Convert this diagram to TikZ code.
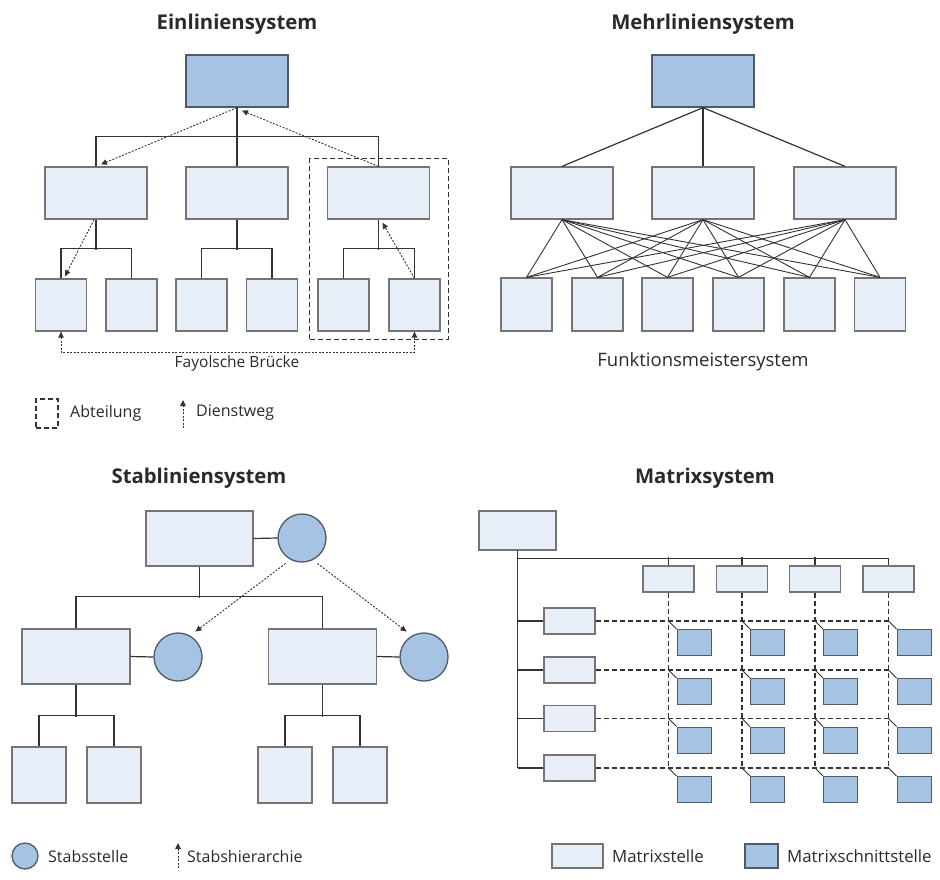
\documentclass[tikz,border=0pt]{standalone}
\usepackage{fontspec}
\setmainfont{Open Sans}
\usetikzlibrary{arrows.meta,fit,positioning}
\definecolor{lightfill}{HTML}{E8EEF8}
\definecolor{darkfill}{HTML}{A7C3E4}
\definecolor{boxline}{HTML}{747474}
\definecolor{darkline}{HTML}{505B67}
\definecolor{conn}{HTML}{333333}
\definecolor{txt}{HTML}{2A2A2A}
\tikzset{
  lbox/.style={draw=boxline, fill=lightfill, line width=1.3pt, inner sep=0pt},
  dbox/.style={draw=darkline, fill=darkfill, line width=1.3pt, inner sep=0pt},
  circ/.style={circle, draw=darkline, fill=darkfill, line width=1.3pt, inner sep=0pt, minimum size=48pt},
  conline/.style={draw=conn, line width=1.2pt},
  dienst/.style={draw=conn, line width=0.9pt, dash pattern=on 2pt off 1.5pt, -{Triangle[length=6pt,width=5.5pt]}},
  abt/.style={draw=conn, line width=1.2pt, dash pattern=on 5pt off 3pt},
  mdash/.style={draw=conn, line width=1.2pt, dash pattern=on 5pt off 3pt},
  title/.style={font=\fontsize{20.3}{23}\selectfont\bfseries, text=txt},
  lab/.style={font=\fontsize{16}{19}\selectfont, text=txt},
}
\begin{document}
\begin{tikzpicture}[x=1pt,y=-1pt]
\useasboundingbox (0,0) rectangle (940,879);
% ================= Einliniensystem =================
\node[title] (t1) at (237,24) {Einliniensystem};
\node[dbox, minimum width=102pt, minimum height=52pt] (T1) at (237,81) {};
\foreach \n/\x in {A1/96,A2/237,A3/378.5}
  \node[lbox, minimum width=102pt, minimum height=52pt] (\n) at (\x,193) {};
\foreach \n/\x in {B1/61,B2/131.5,B3/201.5,B4/272,B5/343.5,B6/414.5}
  \node[lbox, minimum width=51pt, minimum height=52pt] (\n) at (\x,305) {};
\draw[conline] (T1.south) -- (A2.north);
\draw[conline] (A1.north) -- ++(0,-30) -| (A3.north);
\draw[conline] (A1.south) -- ++(0,30);
\draw[conline] (A2.south) -- ++(0,30);
\draw[conline] (A3.south) -- ++(0,30);
\draw[conline] (B1.north) -- ++(0,-30) -| (B2.north);
\draw[conline] (B3.north) -- ++(0,-30) -| (B4.north);
\draw[conline] (B5.north) -- ++(0,-30) -| (B6.north);
\draw[dienst] (T1.south) -- ([xshift=5pt,yshift=2pt]A1.north);
\draw[dienst] (A3.north) -- ([xshift=5pt,yshift=-3pt]T1.south);
\draw[dienst] ([xshift=-2pt]A1.south) -- ([xshift=4pt,yshift=2pt]B1.north);
\draw[dienst] (B6.north) -- ([xshift=4pt,yshift=-3pt]A3.south);
\draw[dienst, {Triangle[length=6pt,width=5.5pt]}-{Triangle[length=6pt,width=5.5pt]}] (B1.south) -- ++(0,21) -| (B6.south);
\node[lab, font=\fontsize{15.5}{18}\selectfont] (fay) at (237,363) {Fayolsche Brücke};
\node[abt, inner sep=7.5pt, fit=(A3)(B5)(B6)] (abtbox) {};
% legend
\node[abt, minimum width=22pt, minimum height=29pt, inner sep=0pt] (legA) at (47,413.5) {};
\node[lab, anchor=west, inner sep=0pt] (legAt) at (70,413) {Abteilung};
\coordinate (d1) at (183,428);
\coordinate (d2) at (183,400);
\draw[dienst] (d1) -- (d2);
\node[lab, anchor=west, inner sep=0pt] (legDt) at (196,413) {Dienstweg};
% ================= Mehrliniensystem =================
\node[title] (t2) at (703,24) {Mehrliniensystem};
\node[dbox, minimum width=102pt, minimum height=52pt] (M0) at (703,81) {};
\foreach \n/\x in {MA/562,MB/703,MC/845}
  \node[lbox, minimum width=102pt, minimum height=52pt] (\n) at (\x,193) {};
\foreach \n/\x in {N1/526.5,N2/597.5,N3/667.5,N4/738.5,N5/809.5,N6/880}
  \node[lbox, minimum width=51pt, minimum height=53pt] (\n) at (\x,304.5) {};
\foreach \m in {MA,MB,MC} \draw[conline] (M0.south) -- (\m.north);
\foreach \m in {MA,MB,MC}
  \foreach \b in {N1,N2,N3,N4,N5,N6}
    \draw[conline, line width=0.9pt] (\m.south) -- (\b.north);
\node[lab, font=\fontsize{18.5}{21}\selectfont] (fms) at (703,362) {Funktionsmeistersystem};
% ================= Stabliniensystem =================
\node[title] (t3) at (199,478) {Stabliniensystem};
\node[lbox, minimum width=107pt, minimum height=55pt] (S0) at (199.5,538.5) {};
\node[circ] (C0) at (302,538) {};
\node[lbox, minimum width=108pt, minimum height=55pt] (SL) at (76,656.5) {};
\node[lbox, minimum width=108pt, minimum height=55pt] (SR) at (322.5,656.5) {};
\node[circ] (CL) at (178,657) {};
\node[circ] (CR) at (424,657) {};
\foreach \n/\x in {LB1/39,LB2/114,RB1/285,RB2/360}
  \node[lbox, minimum width=54pt, minimum height=56pt] (\n) at (\x,775) {};
\draw[conline] (S0.east) -- (C0.west);
\draw[conline] (SL.east) -- (CL.west);
\draw[conline] (SR.east) -- (CR.west);
\draw[conline] (S0.south) -- ++(0,31);
\draw[conline] (SL.north) -- ++(0,-32) -| (SR.north);
\draw[conline] (SL.south) -- ++(0,32);
\draw[conline] (SR.south) -- ++(0,32);
\draw[conline] (LB1.north) -- ++(0,-31) -| (LB2.north);
\draw[conline] (RB1.north) -- ++(0,-31) -| (RB2.north);
\draw[dienst] ([shift={(1,8)}]C0.south west) -- ([shift={(0,-8)}]CL.north east);
\draw[dienst] ([shift={(-2,8)}]C0.south east) -- ([shift={(0,-8)}]CR.north west);
% legend
\node[circ, minimum size=26pt] (legC) at (25,856) {};
\node[lab, anchor=west, inner sep=0pt] (legCt) at (48,856) {Stabsstelle};
\coordinate (s1) at (178,868);
\coordinate (s2) at (178,843);
\draw[dienst] (s1) -- (s2);
\node[lab, anchor=west, inner sep=0pt] (legSt) at (187,856) {Stabshierarchie};
% ================= Matrixsystem =================
\node[title] (t4) at (705,478) {Matrixsystem};
\node[lbox, minimum width=77pt, minimum height=39pt] (X0) at (517.5,530.5) {};
\foreach \n/\x in {K1/668.5,K2/742,K3/815,K4/888.5}
  \node[lbox, minimum width=51pt, minimum height=26pt] (\n) at (\x,579) {};
\foreach \n/\y in {R1/621,R2/670,R3/718.5,R4/768}
  \node[lbox, minimum width=51pt, minimum height=26pt] (\n) at (569.5,\y) {};
\foreach \c in {1,2,3,4}
  \foreach \r in {1,2,3,4}
    \node[dbox, minimum width=34pt, minimum height=26pt, anchor=north west]
      (Q\c\r) at ([shift={(8,8)}]K\c.south |- R\r.east) {};
\draw[conline] (X0.south) -- (X0.south |- R4.west);
\draw[conline] ([yshift=-8pt]X0.south) -| (K4.north);
\foreach \c in {K1,K2,K3} \draw[conline] (\c.north) -- ++(0,-8);
\foreach \r in {R1,R2,R3,R4} \draw[conline] (\r.west) -- (\r.west -| X0.south);
\foreach \r in {R1,R2,R3,R4} \draw[mdash] (\r.east) -- (\r.east -| K4.south);
\foreach \c in {K1,K2,K3,K4} \draw[mdash] (\c.south) -- (\c.south |- R4.east);
\foreach \c in {1,2,3,4}
  \foreach \r in {1,2,3,4}
    \draw[conline, line width=0.9pt] (K\c.south |- R\r.east) -- (Q\c\r.north west);
% legend
\node[lbox, minimum width=51pt, minimum height=24pt] (legM1) at (577.5,856) {};
\node[lab, font=\fontsize{16.8}{19}\selectfont, anchor=west, inner sep=0pt] (legM1t) at (612,856) {Matrixstelle};
\node[dbox, minimum width=33pt, minimum height=24pt] (legM2) at (761.5,856) {};
\node[lab, font=\fontsize{16.8}{19}\selectfont, anchor=west, inner sep=0pt] (legM2t) at (787,856) {Matrixschnittstelle};
\end{tikzpicture}
\end{document}
